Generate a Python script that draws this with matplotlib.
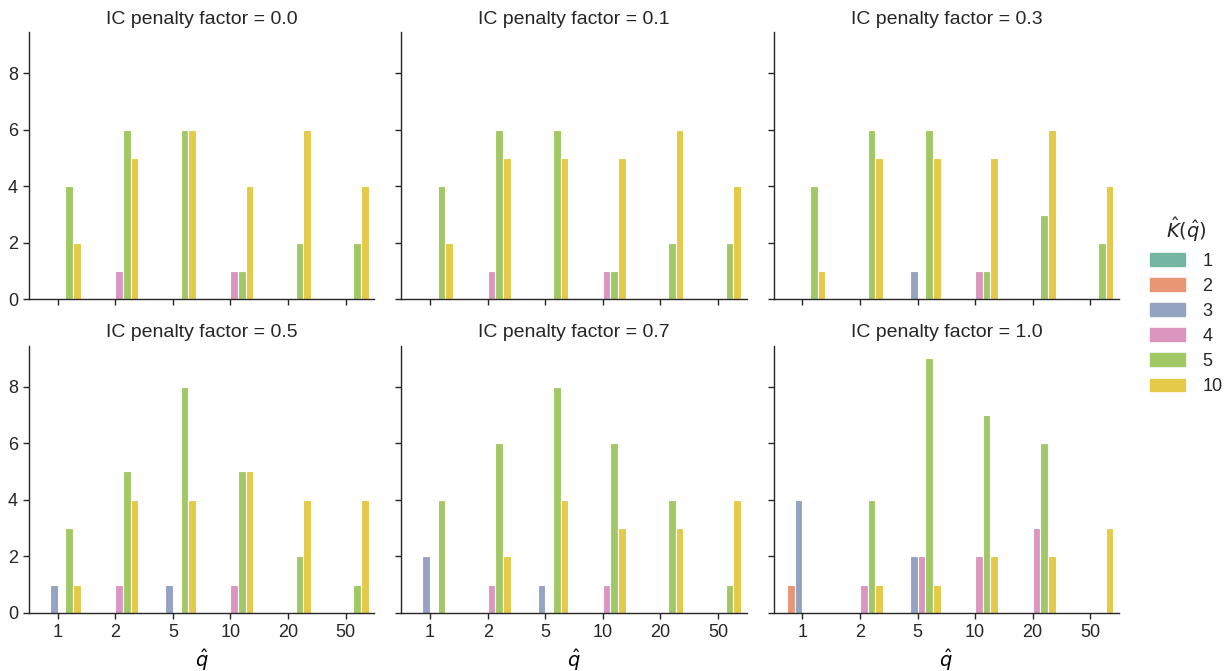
import numpy as np
import matplotlib
matplotlib.use('Agg')
from matplotlib import pyplot as plt
import colorsys
from matplotlib.colors import to_rgb

# K-hat levels (hue), q-hat levels (x) and IC penalty factors (columns)
k_levels = [1, 2, 3, 4, 5, 10]
q_labels = ['1', '2', '5', '10', '20', '50']
penalties = [0.0, 0.1, 0.3, 0.5, 0.7, 1.0]

# counts per K-hat level (rows) for each q-hat (columns)
counts_00 = [[0, 0, 0, 0, 0, 0],
             [0, 0, 0, 0, 0, 0],
             [0, 0, 0, 0, 0, 0],
             [0, 1, 0, 1, 0, 0],
             [4, 6, 6, 1, 2, 2],
             [2, 5, 6, 4, 6, 4]]
counts_01 = [[0, 0, 0, 0, 0, 0],
             [0, 0, 0, 0, 0, 0],
             [0, 0, 0, 0, 0, 0],
             [0, 1, 0, 1, 0, 0],
             [4, 6, 6, 1, 2, 2],
             [2, 5, 5, 5, 6, 4]]
counts_03 = [[0, 0, 0, 0, 0, 0],
             [0, 0, 0, 0, 0, 0],
             [0, 0, 1, 0, 0, 0],
             [0, 0, 0, 1, 0, 0],
             [4, 6, 6, 1, 3, 2],
             [1, 5, 5, 5, 6, 4]]
counts_05 = [[0, 0, 0, 0, 0, 0],
             [0, 0, 0, 0, 0, 0],
             [1, 0, 1, 0, 0, 0],
             [0, 1, 0, 1, 0, 0],
             [3, 5, 8, 5, 2, 1],
             [1, 4, 4, 5, 4, 4]]
counts_07 = [[0, 0, 0, 0, 0, 0],
             [0, 0, 0, 0, 0, 0],
             [2, 0, 1, 0, 0, 0],
             [0, 1, 0, 1, 0, 0],
             [4, 6, 8, 6, 4, 1],
             [0, 2, 4, 3, 3, 4]]
counts_10 = [[0, 0, 0, 0, 0, 0],
             [1, 0, 0, 0, 0, 0],
             [4, 0, 2, 0, 0, 0],
             [0, 1, 2, 2, 3, 0],
             [0, 4, 9, 7, 6, 0],
             [0, 1, 1, 2, 2, 3]]
all_counts = [counts_00, counts_01, counts_03, counts_05, counts_07, counts_10]

set2 = ['#66c2a5', '#fc8d62', '#8da0cb', '#e78ac3', '#a6d854', '#ffd92f']


def desat(c, prop=0.75):
    h, l, s = colorsys.rgb_to_hls(*to_rgb(c))
    return colorsys.hls_to_rgb(h, l, s * prop)


colors = [desat(c) for c in set2]

plt.rcParams['font.family'] = ['Liberation Sans', 'DejaVu Sans']
plt.rcParams['axes.edgecolor'] = '.15'
plt.rcParams['axes.linewidth'] = 1.0
plt.rcParams['xtick.color'] = '.15'
plt.rcParams['ytick.color'] = '.15'
plt.rcParams['text.color'] = '.15'

fig, axs = plt.subplots(2, 3, sharex=True, sharey=True, figsize=(12.31, 6.71), dpi=100)
fig.subplots_adjust(left=29/1231, right=1119/1231, bottom=1-613/671, top=1-32/671,
                    wspace=0.078, hspace=0.172)

n_hue = len(k_levels)
slot = 0.8 / n_hue
x = np.arange(len(q_labels))

for ax, pen, cnt in zip(axs.flat, penalties, all_counts):
    cnt = np.asarray(cnt)
    for j in range(n_hue):
        offs = -0.4 + slot * (j + 0.5)
        keep = cnt[j] > 0
        ax.bar(x[keep] + offs, cnt[j][keep], width=slot, color=colors[j],
               edgecolor='white', linewidth=0.8)
    ax.set_title(f'IC penalty factor = {pen}', fontsize=14)
    ax.spines['top'].set_visible(False)
    ax.spines['right'].set_visible(False)
    ax.tick_params(labelsize=13, length=4.5, width=1)

axs[0, 0].set_xlim(-0.5, len(q_labels) - 0.5)
axs[0, 0].set_ylim(0, 9.45)
axs[0, 0].set_xticks(x)
axs[0, 0].set_xticklabels(q_labels)
axs[0, 0].set_yticks([0, 2, 4, 6, 8])
for ax in axs[1]:
    ax.set_xlabel(r'$\hat{q}$', fontsize=14)

handles = [plt.Rectangle((0, 0), 1, 1, color=c) for c in colors]
fig.legend(handles, [str(k) for k in k_levels], title=r'$\hat{K}(\hat{q})$',
           loc='center left', bbox_to_anchor=(1134/1231, 0.545), frameon=False,
           fontsize=13, title_fontsize=14, handlelength=1.95, handleheight=0.7,
           handletextpad=0.95, labelspacing=0.45)

fig.savefig('out.png', dpi=100)
